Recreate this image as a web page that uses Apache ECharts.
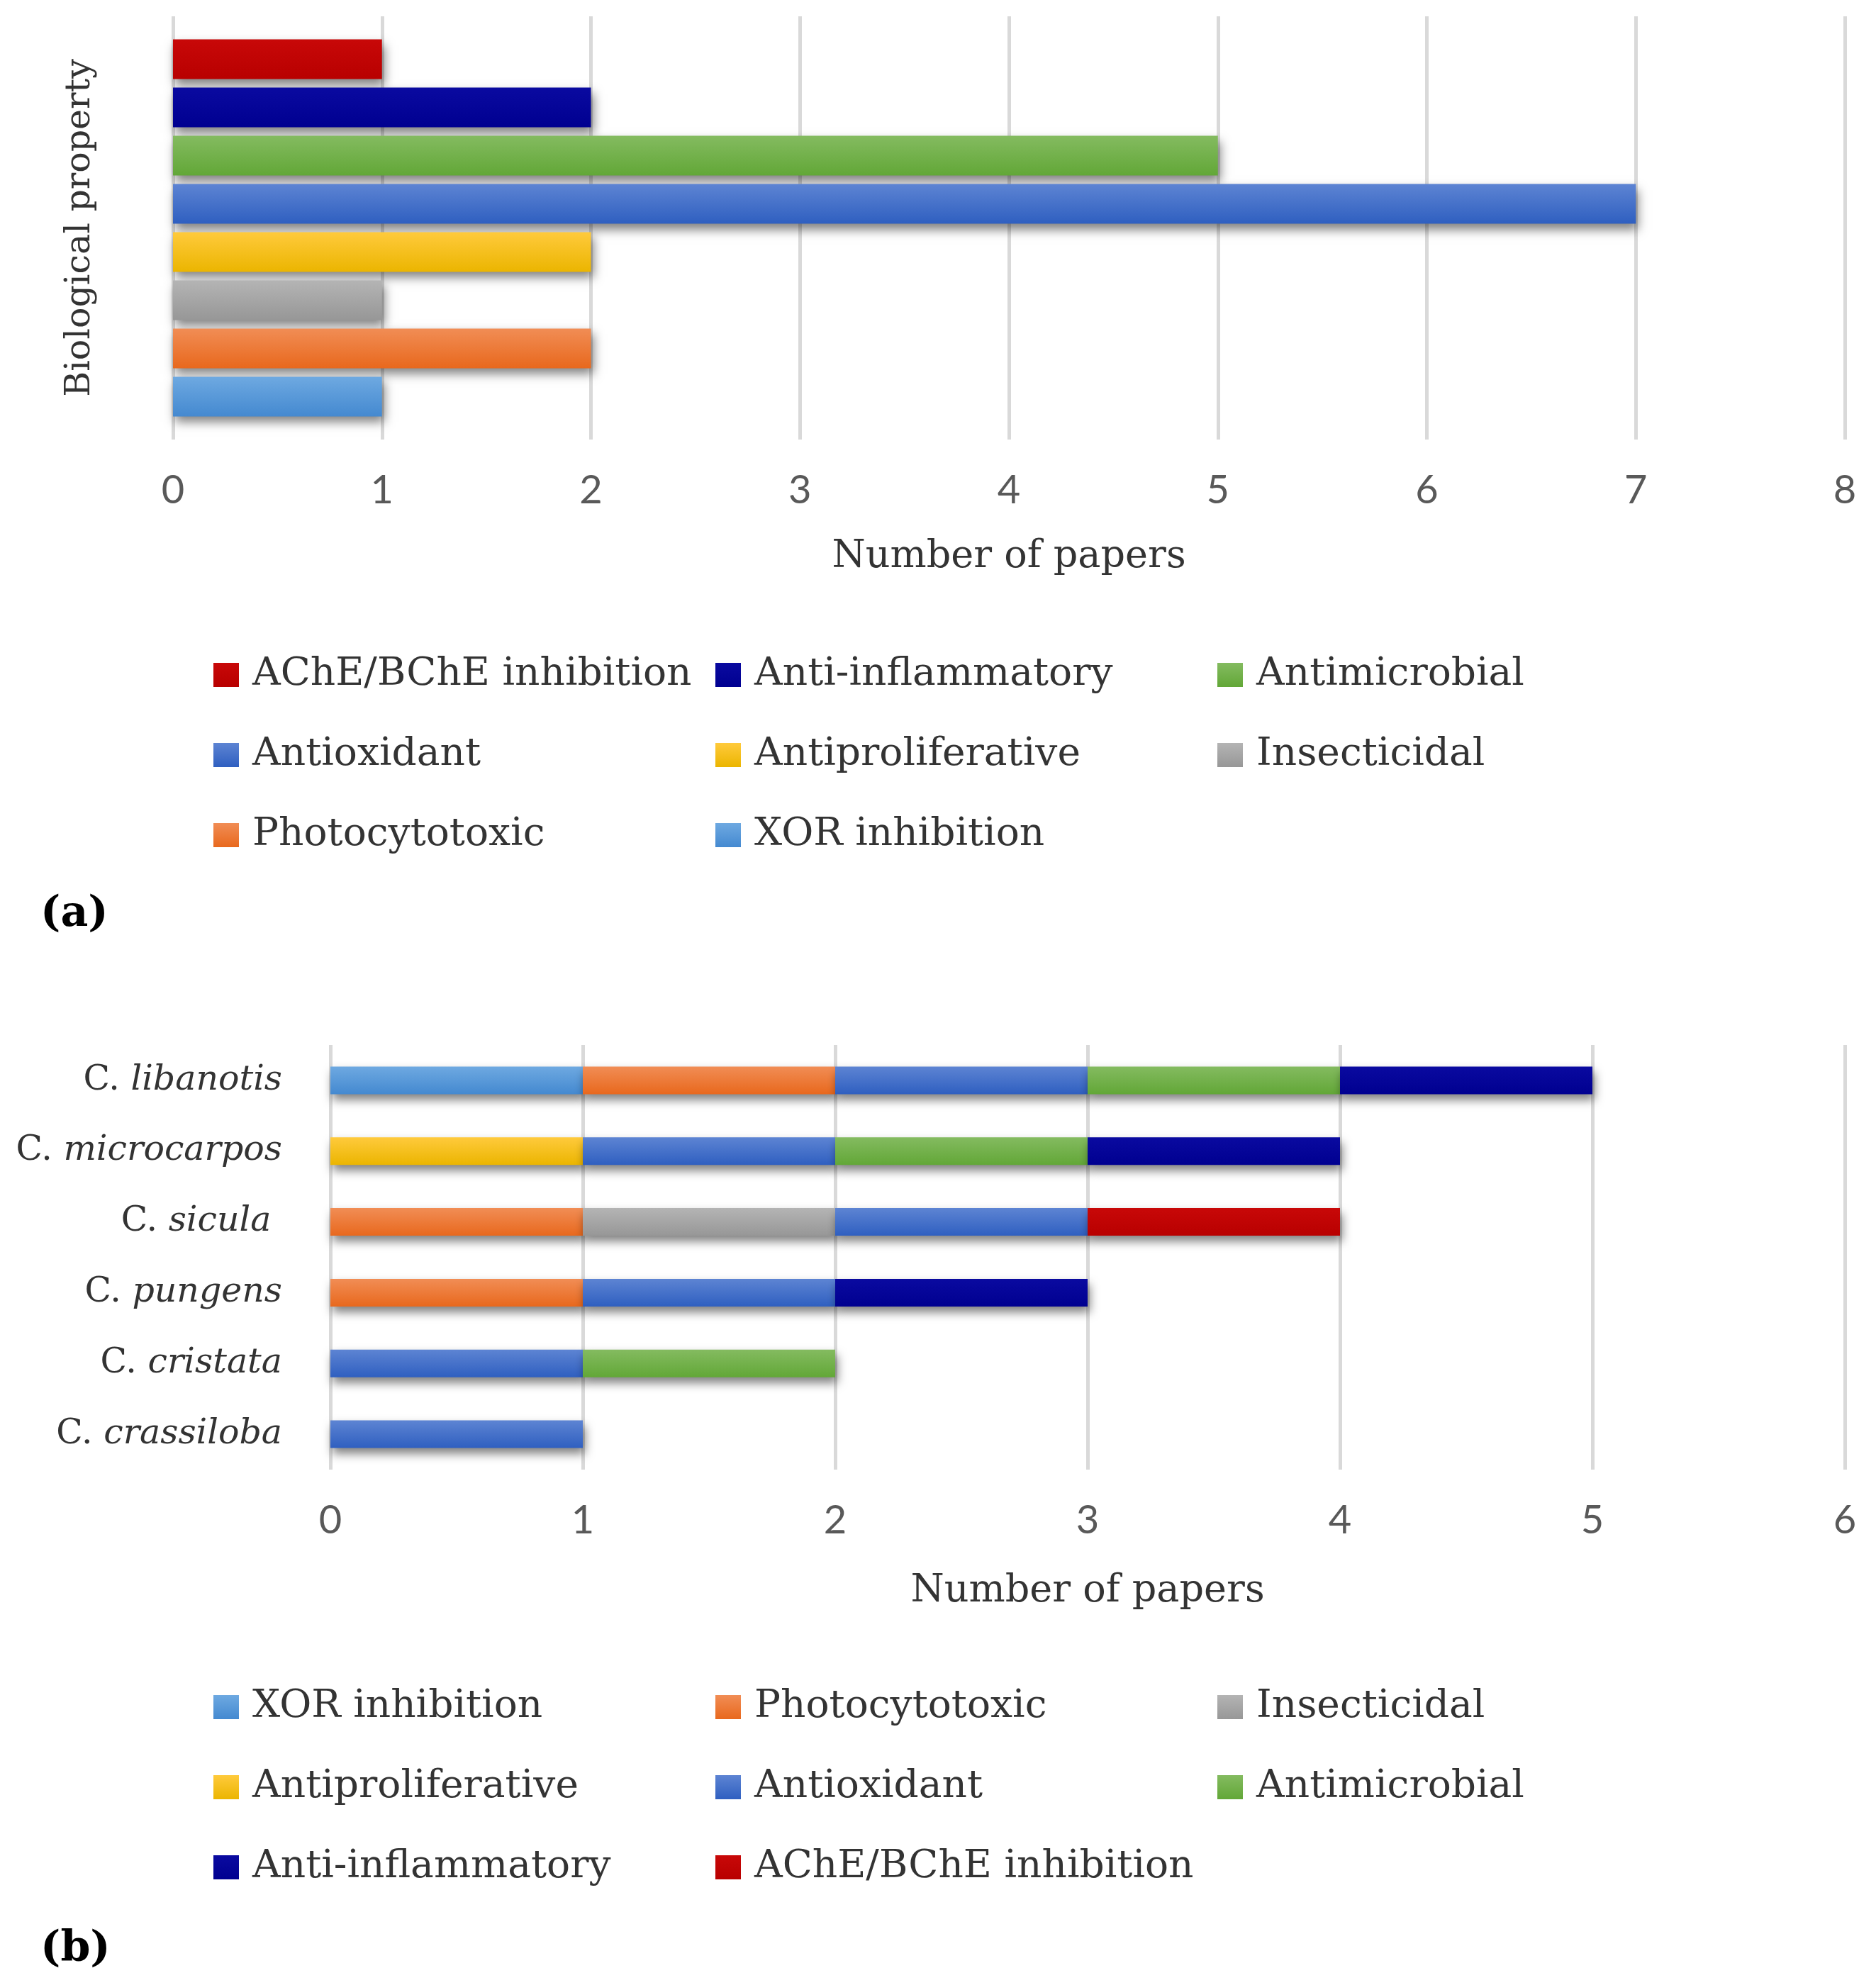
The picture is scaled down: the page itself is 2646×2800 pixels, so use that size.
<!DOCTYPE html>
<html lang="en">
<head>
<meta charset="UTF-8">
<title>Biological properties</title>
<script src="https://cdn.jsdelivr.net/npm/echarts@6/dist/echarts.min.js"></script>
<style>
  html, body { margin: 0; padding: 0; background: #fff; }
  #chart { width: 2646px; height: 2800px; }
</style>
</head>
<body>
<div id="chart"></div>
<script>
// (a) number of papers per biological property, top bar first
var propsA = ['AChE/BChE inhibition', 'Anti-inflammatory', 'Antimicrobial', 'Antioxidant',
              'Antiproliferative', 'Insecticidal', 'Photocytotoxic', 'XOR inhibition'];
var valuesA = [1, 2, 5, 7, 2, 1, 2, 1];
var ticksA = [0, 8];

// (b) stacked per species, categories listed top to bottom
var species = ['C. libanotis', 'C. microcarpos', 'C. sicula ', 'C. pungens', 'C. cristata', 'C. crassiloba'];
var propsB = ['XOR inhibition', 'Photocytotoxic', 'Insecticidal', 'Antiproliferative',
              'Antioxidant', 'Antimicrobial', 'Anti-inflammatory', 'AChE/BChE inhibition'];
var xor        = [1, 0, 0, 0, 0, 0];
var photo      = [1, 0, 1, 1, 0, 0];
var insect     = [0, 0, 1, 0, 0, 0];
var antiprolif = [0, 1, 0, 0, 0, 0];
var antiox     = [1, 1, 1, 1, 1, 1];
var antimicro  = [1, 1, 0, 0, 1, 0];
var antiinflam = [1, 1, 0, 1, 0, 0];
var ache       = [0, 0, 1, 0, 0, 0];
var valuesB = [xor, photo, insect, antiprolif, antiox, antimicro, antiinflam, ache];
var ticksB = [0, 6];

// colours: top / bottom of the gradient
var colors = {
  'AChE/BChE inhibition': ['#c80808', '#b80000'],
  'Anti-inflammatory':    ['#0a0aa0', '#000090'],
  'Antimicrobial':        ['#84bb60', '#62a737'],
  'Antioxidant':          ['#5d84d3', '#2f5fc0'],
  'Antiproliferative':    ['#ffca3c', '#ebb500'],
  'Insecticidal':         ['#b4b4b4', '#979797'],
  'Photocytotoxic':       ['#f18d55', '#e8681d'],
  'XOR inhibition':       ['#6ea9e1', '#4489d0']
};

var serif = 'DejaVu Serif';
var sans = 'Lato';
var NBSP = '\u00a0';

function fill(name) {
  var c = colors[name];
  return new echarts.graphic.LinearGradient(0, 0, 0, 1, [
    { offset: 0, color: c[0] }, { offset: 1, color: c[1] }
  ]);
}

function barStyle(name) {
  return {
    color: fill(name),
    shadowColor: 'rgba(0,0,0,0.5)',
    shadowBlur: 14,
    shadowOffsetX: 3,
    shadowOffsetY: 8
  };
}

var series = [];
propsA.forEach(function (name, i) {
  series.push({
    name: name,
    type: 'bar',
    xAxisIndex: 0,
    yAxisIndex: 0,
    barWidth: 56,
    barGap: '21.4%',
    data: [valuesA[i]],
    itemStyle: barStyle(name)
  });
});
propsB.forEach(function (name, i) {
  series.push({
    name: name,
    type: 'bar',
    stack: 'b',
    xAxisIndex: 1,
    yAxisIndex: 1,
    barWidth: 39,
    data: valuesB[i].map(function (v) { return v === 0 ? '-' : v; }),
    itemStyle: barStyle(name)
  });
});

function valueAxis(idx, ticks, labelMargin, nameGap) {
  return {
    type: 'value',
    gridIndex: idx,
    min: ticks[0],
    max: ticks[1],
    interval: 1,
    name: 'Number of papers',
    nameLocation: 'middle',
    nameGap: nameGap,
    nameTextStyle: { fontFamily: serif, fontSize: 54, color: '#333' },
    axisLine: { show: false },
    axisTick: { show: false },
    axisLabel: { fontFamily: sans, fontSize: 56, color: '#595959', margin: labelMargin },
    splitLine: { show: true, lineStyle: { color: '#d9d9d9', width: 5 } }
  };
}

function legend(names, top) {
  return {
    data: names,
    left: 296,
    top: top,
    width: 2200,
    orient: 'horizontal',
    itemWidth: 36,
    itemHeight: 34,
    itemGap: 3,
    icon: 'rect',
    textStyle: {
      fontFamily: serif,
      fontSize: 55,
      color: '#333',
      width: 650,
      lineHeight: 110,
      padding: [0, 0, 0, 14]
    }
  };
}

var option = {
  backgroundColor: '#fff',
  animation: false,
  title: [
    { text: '(a)', left: 52, top: 1255, textStyle: { fontFamily: serif, fontSize: 60, fontWeight: 'bold', color: '#000' } },
    { text: '(b)', left: 52, top: 2715, textStyle: { fontFamily: serif, fontSize: 60, fontWeight: 'bold', color: '#000' } }
  ],
  legend: [legend(propsA, 892), legend(propsB, 2348)],
  grid: [
    { left: 244, right: 44, top: 23, height: 597 },
    { left: 466, right: 44, top: 1474, height: 599 }
  ],
  xAxis: [valueAxis(0, ticksA, 44, 139), valueAxis(1, ticksB, 44, 145)],
  yAxis: [
    {
      type: 'category',
      gridIndex: 0,
      data: [''],
      name: 'Biological property',
      nameLocation: 'middle',
      nameRotate: 90,
      nameGap: 106,
      nameTextStyle: { fontFamily: serif, fontSize: 49, color: '#333' },
      axisLine: { show: false },
      axisTick: { show: false },
      axisLabel: { show: false }
    },
    {
      type: 'category',
      gridIndex: 1,
      inverse: true,
      data: species,
      axisLine: { show: false },
      axisTick: { show: false },
      axisLabel: {
        margin: 68,
        formatter: function (v) {
          var rest = v.replace(/^C\. /, '').replace(/ $/, NBSP);
          return '{g|C.' + NBSP + '}{s|' + rest + '}';
        },
        rich: {
          g: { fontFamily: serif, fontSize: 49, color: '#333' },
          s: { fontFamily: serif, fontSize: 49, fontStyle: 'italic', color: '#333' }
        }
      }
    }
  ],
  series: series
};

var chart = echarts.init(document.getElementById('chart'));
chart.setOption(option);
</script>
</body>
</html>
